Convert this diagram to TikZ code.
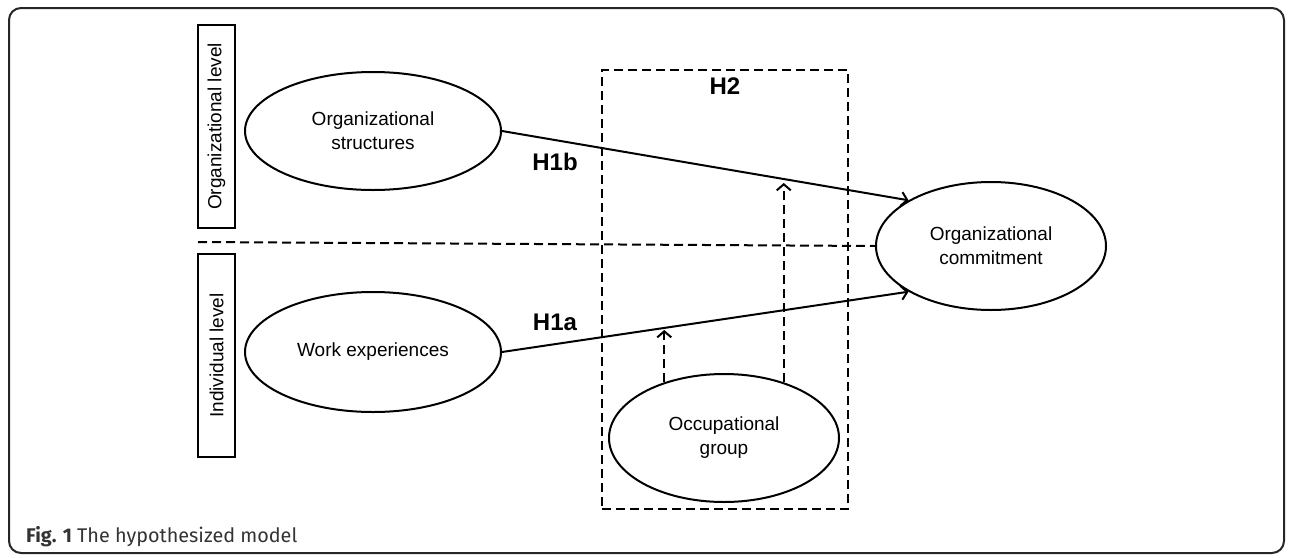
\documentclass[tikz,border=0pt]{standalone}
\usepackage{fontspec}
\setmainfont{Liberation Sans}
\newfontfamily\capfont{Fira Sans}
\usetikzlibrary{shapes.geometric,arrows.meta}
\tikzset{
  lat/.style={ellipse, draw, line width=2pt, inner sep=0pt, align=center,
    font=\fontsize{19}{24}\selectfont},
  lvlbox/.style={draw, line width=1.5pt, rotate=90, minimum width=203pt, minimum height=37pt,
    inner sep=0pt, font=\fontsize{19}{24}\selectfont},
  hyp/.style={font=\bfseries\fontsize{24}{28}\selectfont},
  path/.style={line width=2pt, -{Straight Barb[length=6pt,width=14pt,line width=2pt]}},
  dpath/.style={line width=2pt, dash pattern=on 9pt off 5pt, -{Straight Barb[length=6pt,width=14pt,line width=2pt]}},
  dline/.style={line width=2pt, dash pattern=on 9pt off 5pt}
}
\begin{document}
\begin{tikzpicture}[x=1pt,y=-1pt]
\useasboundingbox (0,0) rectangle (1290,557);
\draw[line width=2pt, rounded corners=12pt, black!85] (9,8) rectangle (1284,553);
% level boxes
\node[lvlbox] (orglvl) at (216.5,126.5) {Organizational level};
\node[lvlbox] (indlvl) at (216.5,355.5) {Individual level};
% H2 box
\node[draw, dline, minimum width=246pt, minimum height=439pt, inner sep=0pt] (h2box) at (725,289.5) {};
\node[hyp] (h2) at (725,86) {H2};
% latent variables
\node[lat, minimum width=256pt, minimum height=118pt] (os) at (373,131) {Organizational\\structures};
\node[lat, minimum width=256pt, minimum height=120pt] (we) at (373,352) {Work experiences};
\node[lat, minimum width=230pt, minimum height=128pt] (oc) at (991,246) {Organizational\\commitment};
\node[lat, minimum width=230pt, minimum height=128pt] (og) at (724,438) {Occupational\\group};
% level divider
\coordinate (dl) at (198,242);
\draw[dline] (dl) -- (oc.west);
% paths
\draw[path] (os.east) -- (oc.151);
\draw[path] (we.east) -- (oc.209);
\node[hyp] (h1b) at (555,162) {H1b};
\node[hyp] (h1a) at (555,322) {H1a};
% moderation
\coordinate (m1) at (665,330);
\coordinate (m2) at (785,183);
\draw[dpath] (og.137) -- (og.137 |- m1);
\draw[dpath] (og.43) -- (og.43 |- m2);
% caption
\node[anchor=base west, inner sep=0pt, text=black!80, font=\capfont\fontsize{19.8}{24}\selectfont] (cap) at (26,542) {\textbf{Fig. 1} The hypothesized model};
\end{tikzpicture}
\end{document}
